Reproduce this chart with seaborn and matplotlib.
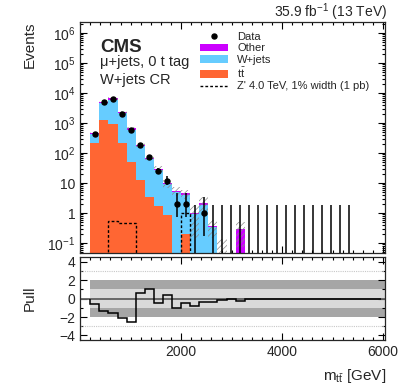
import numpy as np
import pandas as pd
import matplotlib
matplotlib.use('Agg')
import matplotlib.pyplot as plt
import seaborn as sns
from matplotlib.ticker import MultipleLocator, LogLocator, FixedLocator, FuncFormatter, NullFormatter
from matplotlib.lines import Line2D
from matplotlib.patches import Patch

sns.set_style('ticks')
plt.rcParams['font.family'] = ['Liberation Sans', 'DejaVu Sans']
plt.rcParams['mathtext.fontset'] = 'custom'
plt.rcParams['mathtext.rm'] = 'Liberation Sans'
plt.rcParams['mathtext.it'] = 'Liberation Sans:italic'
plt.rcParams['mathtext.bf'] = 'Liberation Sans:bold'
plt.rcParams['hatch.linewidth'] = 0.5
plt.rcParams['hatch.color'] = '#8a8a8a'

# m_tt binning (GeV)
edges = [200 + 180 * k for k in range(33)]

# stacked backgrounds, events per bin
tt = [210, 1300, 910, 210, 52, 12.6, 3.5, 1.7, 0.85, 0, 0.2] + [0] * 21
wjets = [230, 3450, 5140, 1890, 553, 156, 59.5, 25.8, 8.15, 5.0, 3.9, 0.9, 1.9, 0.34, 0.04] + [0] * 17
other = [40, 450, 550, 200, 55, 16, 6, 2.5, 0.8, 0.5, 0.4, 0.1, 0.2, 0.03, 0, 0, 0.29] + [0] * 15
# relative uncertainty of the total background
unc = [0.08, 0.08, 0.08, 0.1, 0.12, 0.15, 0.18, 0.22, 0.3, 0.35, 0.35, 0.85, 0.6, 0.6, 2.5, 0, 0.75] + [0] * 15
# observed data (nan = not shown)
data = [430, 4900, 6300, 2000, 570, 185, 72, 25, 12, 2, 2, 0, 1] + [0] * 16 + [np.nan] * 3
# Z' signal
signal = [0, 0, 0.55, 0.46, 0.48, 0, 0, 0, 0, 0, 1.0] + [0] * 21
# pull per bin
pull = [-0.55, -1.3, -1.58, -2.1, -2.5, 0.65, 1.05, -0.42, 0.4, -1.04, -0.48, -0.84,
        -0.38, -0.38, -0.15, 0.0, -0.23, -0.05, -0.03, -0.02] + [0] * 12

colors = {'Other': '#cc00ff', 'W+jets': '#66ccff', 'tt': '#ff6633'}

centers = [0.5 * (edges[i] + edges[i + 1]) for i in range(len(edges) - 1)]
df = pd.concat([
    pd.DataFrame({'mtt': centers, 'events': tt, 'process': 'tt'}),
    pd.DataFrame({'mtt': centers, 'events': wjets, 'process': 'W+jets'}),
    pd.DataFrame({'mtt': centers, 'events': other, 'process': 'Other'}),
], ignore_index=True)

fig = plt.figure(figsize=(4.11, 3.87), dpi=100)
ax = fig.add_axes([0.195, 0.347, 0.742, 0.597])
ax2 = fig.add_axes([0.195, 0.1214, 0.742, 0.2137])

sns.histplot(data=df, x='mtt', weights='events', hue='process',
             hue_order=['Other', 'W+jets', 'tt'], palette=colors,
             multiple='stack', bins=edges, element='step', fill=True,
             alpha=1, linewidth=0, legend=False, ax=ax)

edges_a = np.array(edges, dtype=float)
centers_a = np.array(centers)
total = np.array(tt) + np.array(wjets) + np.array(other)
unc = np.array(unc)
up = total * (1 + unc)
dn = np.clip(total * (1 - unc), 1e-4, None)
ax.fill_between(edges_a, np.append(dn, dn[-1]), np.append(up, up[-1]), step='post',
                facecolor='none', edgecolor='#8a8a8a', hatch='//////', linewidth=0, zorder=3)

ax.stairs(signal, edges_a, color='black', lw=1.0, ls=(0, (2, 1.5)), zorder=4)

n = np.array(data, dtype=float)
hi = n + np.sqrt(n + 0.75) + 1
nn = np.maximum(np.nan_to_num(n), 1e-9)
lo = np.where(n > 0, n * (1 - 1 / (9 * nn) - 1 / (3 * np.sqrt(nn))) ** 3, 0)
lo = np.clip(lo, 0, None)
pos = n > 0
ax.errorbar(centers_a[pos], n[pos], yerr=[n[pos] - lo[pos], hi[pos] - n[pos]], fmt='o', color='black',
            ms=3.6, elinewidth=1.1, capsize=0, zorder=5)
zero = n == 0
ax.errorbar(centers_a[zero], np.full(zero.sum(), 1e-3), yerr=[np.zeros(zero.sum()), hi[zero] - 1e-3],
            fmt='none', ecolor='black', elinewidth=1.1, capsize=0, zorder=5)

ax.set_yscale('log')
ax.set_ylim(0.0475, 2.4e6)
ax.set_xlim(0, 6040)
ax.set_xlabel('')
ax.set_ylabel('')


def logfmt(v, p):
    k = int(round(np.log10(v)))
    if k == 0:
        return '1'
    if k == 1:
        return '10'
    return r'$10^{%d}$' % k


def pullfmt(v, p):
    return '%d' % v if v >= 0 else '\u2212%d' % (-v)


ax.yaxis.set_major_locator(LogLocator(base=10, numticks=20))
ax.yaxis.set_minor_locator(LogLocator(base=10, subs=np.arange(2, 10), numticks=50))
ax.yaxis.set_major_formatter(FuncFormatter(logfmt))
ax.yaxis.set_minor_formatter(NullFormatter())

for a in (ax, ax2):
    a.xaxis.set_major_locator(FixedLocator([2000, 4000, 6000]))
    a.xaxis.set_minor_locator(MultipleLocator(200))
    a.tick_params(which='both', direction='in', top=True, right=True, labelsize=10, width=0.8, color='black')
    a.tick_params(which='major', length=5)
    a.tick_params(which='minor', length=2.5, labelleft=False, labelbottom=False)
    for s in a.spines.values():
        s.set_linewidth(0.9)
ax.tick_params(labelbottom=False)

# pull panel
ax2.axhspan(-2, 2, xmin=200 / 6040, xmax=1, color='#a6a6a6', lw=0, zorder=0)
ax2.axhspan(-1, 1, xmin=200 / 6040, xmax=1, color='#dadada', lw=0, zorder=0)
for yv in (3, -3):
    ax2.axhline(yv, color='#c8c8c8', lw=0.8, ls=(0, (1, 1)), zorder=1)
ax2.axhline(0, color='#606060', lw=1.3, zorder=2)
ax2.stairs(pull, edges_a, color='black', lw=1.1, zorder=3)
ax2.set_xlim(0, 6040)
ax2.set_ylim(-4.5, 4.5)
ax2.yaxis.set_major_locator(FixedLocator([-4, -2, 0, 2, 4]))
ax2.yaxis.set_minor_locator(MultipleLocator(1))
ax2.yaxis.set_major_formatter(FuncFormatter(pullfmt))
ax2.xaxis.set_major_formatter(FuncFormatter(lambda v, p: '%d' % v))

# labels
fig.text(37 / 411, 1 - 22 / 387, 'Events', rotation=90, ha='right', va='top', fontsize=11)
fig.text(37 / 411, 1 - 298 / 387, 'Pull', rotation=90, ha='right', va='center', fontsize=11)
fig.text(386 / 411, 1 - 380 / 387, r'$\mathrm{m}_{\mathrm{t\bar{t}}}$ [GeV]', ha='right', va='baseline', fontsize=11)
fig.text(387 / 411, 1 - 17 / 387, r'35.9 fb$^{-1}$ (13 TeV)', ha='right', va='baseline', fontsize=10)
fig.text(100 / 411, 1 - 52 / 387, 'CMS', fontweight='bold', ha='left', va='baseline', fontsize=13.5)
fig.text(100 / 411, 1 - 66 / 387, '\u03bc+jets, 0 t tag', ha='left', va='baseline', fontsize=10.5)
fig.text(100 / 411, 1 - 84 / 387, 'W+jets CR', ha='left', va='baseline', fontsize=10.5)

handles = [
    Line2D([0], [0], marker='o', color='black', ms=3.6, lw=0),
    Patch(facecolor=colors['Other'], edgecolor='none'),
    Patch(facecolor=colors['W+jets'], edgecolor='none'),
    Patch(facecolor=colors['tt'], edgecolor='none'),
    Line2D([0], [0], color='black', lw=1.0, ls=(0, (2, 1.5))),
]
labels = ['Data', 'Other', 'W+jets', r'$\mathrm{t\bar{t}}$', "Z' 4.0 TeV, 1% width (1 pb)"]
fig.legend(handles, labels, loc='upper left', bbox_to_anchor=(200 / 411, 1 - 32 / 387),
           frameon=False, fontsize=8, handlelength=2.5, handletextpad=0.85,
           labelspacing=0.12, borderpad=0, borderaxespad=0)

fig.savefig('out.png', dpi=100)
